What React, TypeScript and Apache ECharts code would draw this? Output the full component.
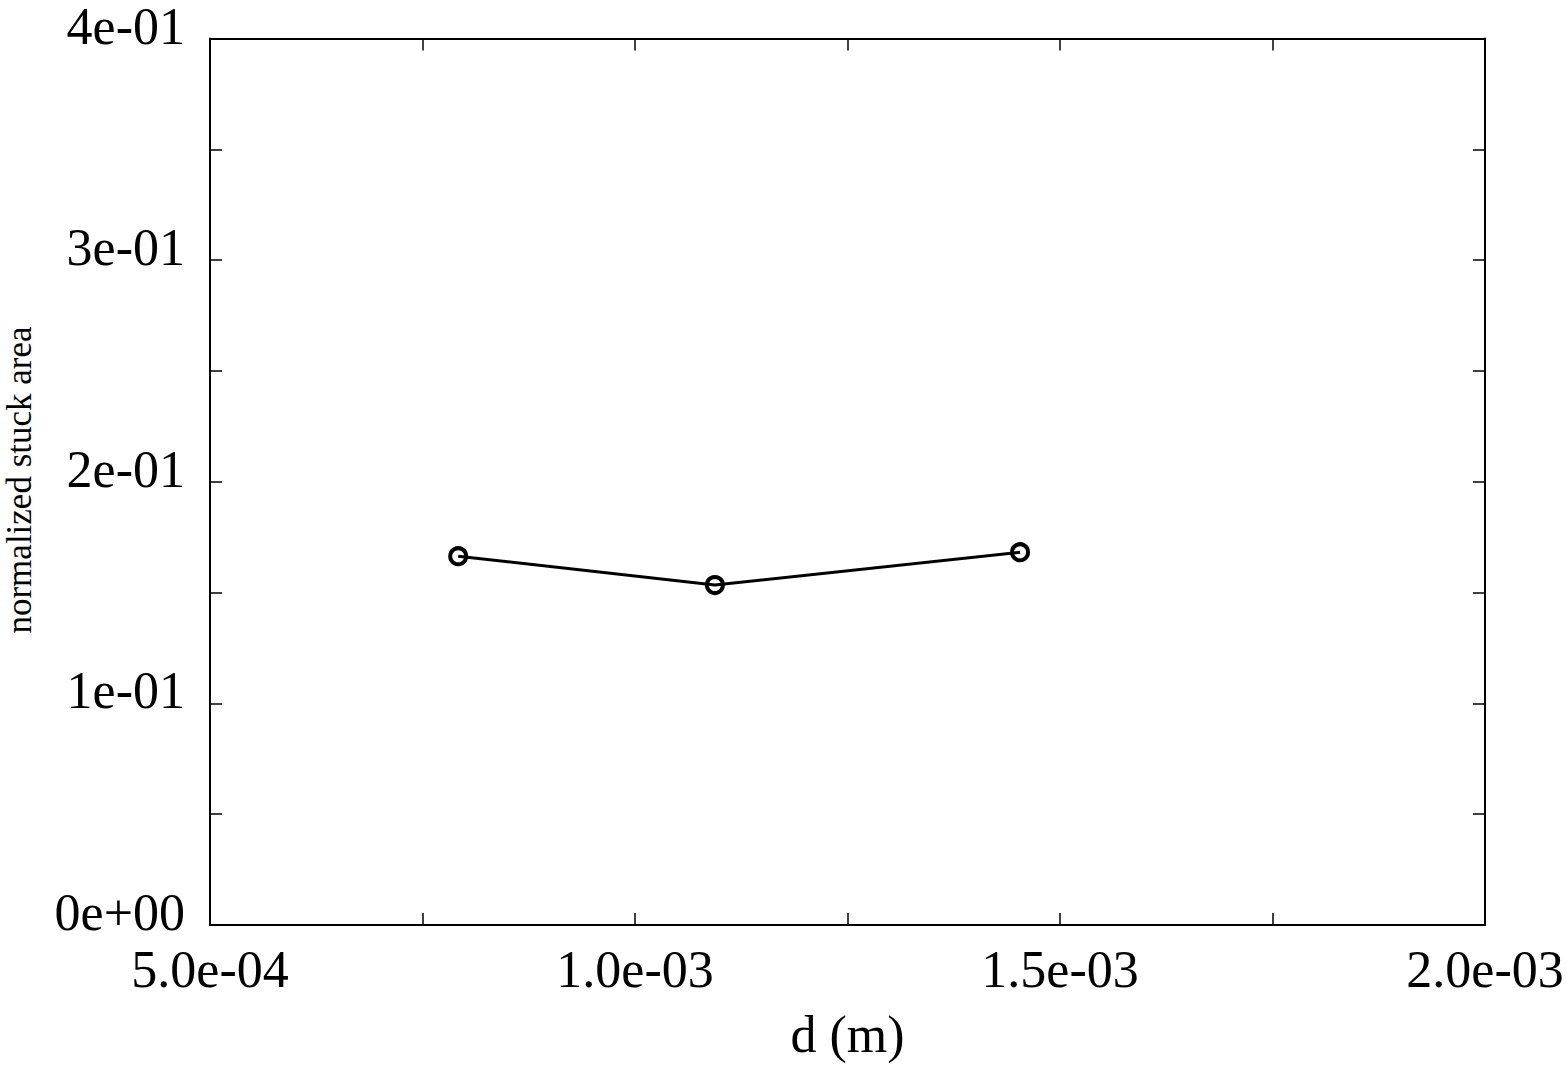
import React, { useEffect, useRef } from "react";
import * as echarts from "echarts";

const dValues = [7.92e-4, 1.094e-3, 1.453e-3];
const stuckArea = [0.1664, 0.1534, 0.1682];
const xMin = 5e-4;
const xMax = 2e-3;
const xTickStep = 2.5e-4;
const xLabelStep = 5e-4;
const yMin = 0;
const yMax = 0.4;
const yTickStep = 0.05;
const yLabelStep = 0.1;
const xTitle = "d (m)";
const yTitle = "normalized stuck area";

function sci(v: number, digits: number): string {
  if (Math.abs(v) < 1e-15) return (0).toFixed(digits) + "e+00";
  let e = Math.floor(Math.log10(Math.abs(v)));
  let m = v / Math.pow(10, e);
  if (Math.abs(Number(m.toFixed(digits))) >= 10) {
    e += 1;
    m = v / Math.pow(10, e);
  }
  const ae = Math.abs(e);
  return m.toFixed(digits) + "e" + (e < 0 ? "-" : "+") + (ae < 10 ? "0" + ae : String(ae));
}

function isMultiple(v: number, step: number) {
  const r = v / step;
  return Math.abs(r - Math.round(r)) < 1e-6;
}

const FONT = "'Liberation Serif', 'Times New Roman', serif";

export default function App() {
  const ref = useRef<HTMLDivElement>(null);
  useEffect(() => {
    if (!ref.current) return;
    const chart = echarts.init(ref.current, undefined, { renderer: "svg" });
    const axisLine = { show: true, onZero: false, lineStyle: { color: "#000", width: 2 } };
    const axisTick = { show: true, inside: true, length: 12, lineStyle: { color: "#000", width: 1.5 } };
    const xBase = {
      type: "value" as const,
      min: xMin,
      max: xMax,
      interval: xTickStep,
      axisLine,
      axisTick,
      splitLine: { show: false },
    };
    const yBase = {
      type: "value" as const,
      min: yMin,
      max: yMax,
      interval: yTickStep,
      axisLine,
      axisTick,
      splitLine: { show: false },
    };
    chart.setOption({
      animation: false,
      backgroundColor: "#fff",
      grid: { left: 210, right: 82, top: 35, bottom: 138, containLabel: false },
      xAxis: [
        {
          ...xBase,
          position: "bottom",
          name: xTitle,
          nameLocation: "middle",
          nameGap: 83,
          nameTextStyle: { color: "#000", fontFamily: FONT, fontSize: 52 },
          axisLabel: {
            show: true,
            color: "#000",
            fontFamily: FONT,
            fontSize: 52,
            margin: 18,
            showMinLabel: true,
            showMaxLabel: true,
            formatter: (v: number) => (isMultiple(v, xLabelStep) ? sci(v, 1) : ""),
          },
        },
        { ...xBase, position: "top", axisLabel: { show: false } },
      ],
      yAxis: [
        {
          ...yBase,
          position: "left",
          axisLabel: {
            show: true,
            color: "#000",
            fontFamily: FONT,
            fontSize: 52,
            margin: 25,
            verticalAlign: "bottom",
            lineHeight: 25,
            showMinLabel: true,
            showMaxLabel: true,
            formatter: (v: number) => (isMultiple(v, yLabelStep) ? sci(v, 0) : ""),
          },
        },
        { ...yBase, position: "right", axisLabel: { show: false } },
      ],
      graphic: [
        {
          type: "text",
          x: 19,
          y: 480,
          rotation: Math.PI / 2,
          style: {
            text: yTitle,
            fill: "#000",
            font: `35px ${FONT}`,
            textAlign: "center",
            textVerticalAlign: "middle",
          },
        },
      ],
      series: [
        {
          type: "line",
          xAxisIndex: 0,
          yAxisIndex: 0,
          data: dValues.map((d, i) => [d, stuckArea[i]]),
          symbol: "circle",
          symbolSize: 16,
          lineStyle: { color: "#000", width: 3 },
          itemStyle: { color: "rgba(0,0,0,0)", borderColor: "#000", borderWidth: 4 },
        },
      ],
    });
    return () => chart.dispose();
  }, []);
  return (
    <div
      ref={ref}
      style={{ position: "absolute", left: 0, top: 0, width: 1567, height: 1065, background: "#fff" }}
    />
  );
}
